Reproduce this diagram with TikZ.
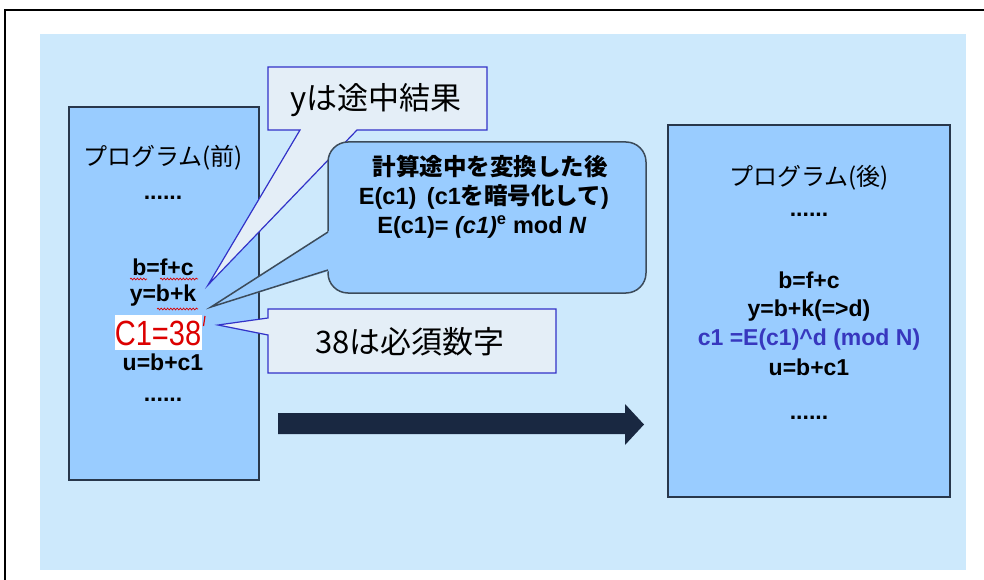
\documentclass[tikz,border=0pt]{standalone}
\usepackage{fontspec}
\setmainfont{Liberation Sans}
\newfontfamily\jp{Noto Sans CJK JP}
\usetikzlibrary{decorations.pathmorphing}
\definecolor{panel}{RGB}{205,233,252}
\definecolor{boxfill}{RGB}{153,204,255}
\definecolor{boxline}{RGB}{40,55,75}
\definecolor{callfill}{RGB}{228,238,247}
\definecolor{callline}{RGB}{50,50,200}
\definecolor{rline}{RGB}{60,75,90}
\definecolor{arrowc}{RGB}{25,40,65}
\definecolor{redtxt}{RGB}{220,0,0}
\definecolor{bluetxt}{RGB}{55,55,190}
\begin{document}
\begin{tikzpicture}[x=1pt,y=-1pt,
  progbox/.style={fill=boxfill,draw=boxline,line width=1.5pt},
  rectcall/.style={fill=callfill,draw=callline,line width=1.2pt,line join=miter},
  roundcall/.style={fill=boxfill,draw=rline,line width=1.5pt},
  code/.style={font=\fontsize{23}{26}\selectfont\bfseries,inner sep=0pt},
  ptitle/.style={font=\fontsize{24}{27}\selectfont\jp,inner sep=0pt},
  calltext/.style={font=\fontsize{31}{34}\selectfont\jp,inner sep=0pt},
  rtext/.style={font=\fontsize{23.5}{26}\selectfont\bfseries,inner sep=0pt},
  wavy/.style={draw=redtxt,line width=0.7pt,decorate,decoration={snake,amplitude=0.9pt,segment length=3.2pt}}
]
\useasboundingbox (0,0) rectangle (984,580);
\fill[white] (0,0) rectangle (984,580);
% frame
\draw[line width=2pt] (5,580) -- (5,10) -- (984,10);
% panel
\fill[panel] (40,34) rectangle (966,570);
% program boxes
\draw[progbox] (69,107) rectangle (259,480);
\draw[progbox] (668,125) rectangle (950,497);
% callout y
\draw[rectcall] (268,67) -- (487,67) -- (487,130) -- (357,130) -- (208,285) -- (300,130) -- (268,130) -- cycle;
\node[calltext] (ycall) at (376,100) {yは途中結果};
% rounded callout
\draw[roundcall,rounded corners=20pt] (328,142) rectangle (646,293);
\fill[boxfill] (329.2,231) -- (211,307) -- (329.2,271) -- cycle;
\draw[rline,line width=1.5pt] (328,232) -- (211,307) -- (328,270);
\node[rtext] (r1) at (490,167) {\jp 計算途中を変換した後};
\node[rtext] (r2) at (484,197) {E(c1)\hspace{0.45em}(c1{\jp を暗号化して})};
\node[rtext] (r3) at (482,227) {E(c1)= \textit{(c1)}\textsuperscript{e} mod \textit{N}};
% callout 38
\draw[rectcall] (268,309) -- (556,309) -- (556,373) -- (268,373) -- (268,335) -- (218,325) -- (268,318) -- cycle;
\node[calltext] (c38) at (410,342) {38は必須数字};
% left program text
\node[ptitle] (lt) at (163,158) {プログラム(前)};
\node[code] (ld1) at (163,198) {......};
\node[code] (l1) at (163,267) {b=f+c};
\node[code] (l2) at (163,296) {y=b+k};
\fill[white] (115,315) rectangle (202,350);
\node[inner sep=0pt,text=redtxt,font=\fontsize{35}{38}\selectfont] (l3) at (158,333) {\scalebox{0.83}[1]{C1=38}};
\draw[redtxt,line width=1.2pt] (205,316) -- (203.5,326);
\node[code] (l4) at (163,362) {u=b+c1};
\node[code] (ld2) at (163,400) {......};
\draw[wavy] (130,279) -- (147,279);
\draw[wavy] (160,279) -- (198,279);
\draw[wavy] (157,309) -- (198,309);
% arrow
\fill[arrowc] (278,413) -- (625,413) -- (625,404) -- (644,424.5) -- (625,445) -- (625,434) -- (278,434) -- cycle;
% right program text
\node[ptitle] (rt) at (809,178) {プログラム(後)};
\node[code] (rd1) at (809,215) {......};
\node[code] (q1) at (809,280) {b=f+c};
\node[code] (q2) at (809,311) {y=b+k(=>d)};
\node[code,text=bluetxt] (q3) at (809,340) {c1 =E(c1)\^{}d (mod N)};
\node[code] (q4) at (809,367) {u=b+c1};
\node[code] (rd2) at (809,418) {......};
\end{tikzpicture}
\end{document}
